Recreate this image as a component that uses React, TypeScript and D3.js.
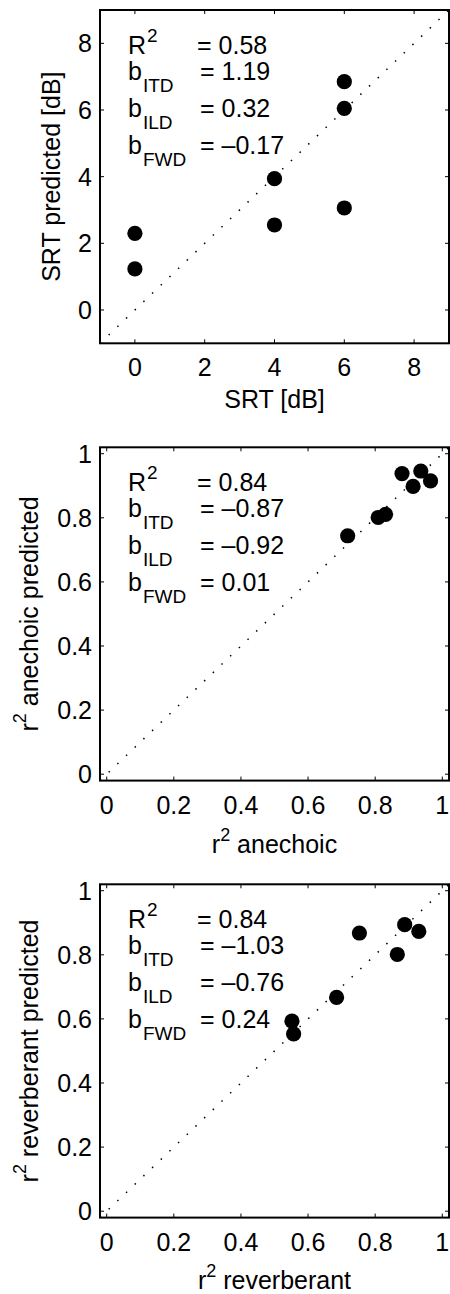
import React from 'react';
import * as d3 from 'd3';

// panel 1: SRT
const srtMeasured = [0, 0, 4, 4, 6, 6, 6];
const srtPredicted = [2.3, 1.23, 3.94, 2.55, 6.85, 6.05, 3.06];
const srtTicks = [0, 2, 4, 6, 8];
const srtStats = ['0.58', '1.19', '0.32', '–0.17'];

// panel 2: anechoic
const anechoicMeasured = [0.718, 0.809, 0.831, 0.88, 0.936, 0.913, 0.965];
const anechoicPredicted = [0.744, 0.801, 0.811, 0.938, 0.946, 0.898, 0.915];
const anechoicStats = ['0.84', '–0.87', '–0.92', '0.01'];

// panel 3: reverberant
const reverbMeasured = [0.552, 0.557, 0.685, 0.753, 0.866, 0.888, 0.93];
const reverbPredicted = [0.593, 0.553, 0.667, 0.868, 0.801, 0.894, 0.873];
const reverbStats = ['0.84', '–1.03', '–0.76', '0.24'];

const unitTicks = [0, 0.2, 0.4, 0.6, 0.8, 1];
const statNames = ['2', 'ITD', 'ILD', 'FWD'];

const FONT = 'Liberation Sans, Arial, Helvetica, sans-serif';

type PanelProps = {
  id: string;
  top: number;
  xs: number[];
  ys: number[];
  domain: [number, number];
  ticks: number[];
  stats: string[];
  xlabel: React.ReactNode;
  ylabel: React.ReactNode;
  ylabelX: number;
  xlabelOff: number;
};

function Panel(p: PanelProps) {
  const left = 100, right = 449, h = 333.3;
  const top = p.top, bottom = top + h;
  const x = d3.scaleLinear().domain(p.domain).range([left, right]);
  const y = d3.scaleLinear().domain(p.domain).range([bottom, top]);
  const fmt = d3.format('~g');
  const diag = d3.line<number>().x(d => x(d)).y(d => y(d))(p.domain);
  const tl = 4;
  const lineY = [44, 69.5, 107, 144];
  return (
    <g fontFamily={FONT} fill="#000">
      <defs>
        <clipPath id={p.id}>
          <rect x={left} y={top} width={right - left} height={h} />
        </clipPath>
      </defs>
      <path d={diag || ''} stroke="#000" strokeWidth={1.5} strokeDasharray="1.5,10.5" fill="none" clipPath={`url(#${p.id})`} />
      {p.xs.map((v, i) => (
        <circle key={i} cx={x(v)} cy={y(p.ys[i])} r={7.6} fill="#000" />
      ))}
      {p.ticks.map(t => (
        <g key={'t' + t}>
          <line x1={x(t)} x2={x(t)} y1={bottom} y2={bottom - tl} stroke="#000" strokeWidth={1} />
          <line x1={x(t)} x2={x(t)} y1={top} y2={top + tl} stroke="#000" strokeWidth={1} />
          <line x1={left} x2={left + tl} y1={y(t)} y2={y(t)} stroke="#000" strokeWidth={1} />
          <line x1={right} x2={right - tl} y1={y(t)} y2={y(t)} stroke="#000" strokeWidth={1} />
          <text x={x(t)} y={bottom + 33} textAnchor="middle" fontSize={25}>{fmt(t)}</text>
          <text x={left - 8} y={y(t)} dy="0.36em" textAnchor="end" fontSize={25}>{fmt(t)}</text>
        </g>
      ))}
      <rect x={left} y={top} width={right - left} height={h} fill="none" stroke="#000" strokeWidth={2} />
      {p.stats.map((s, i) => (
        <g key={'s' + i}>
          <text x={128} y={top + lineY[i]} fontSize={25}>
            {i === 0 ? 'R' : 'b'}
            <tspan fontSize={19} dy={i === 0 ? -12 : 12} dx={1}>{statNames[i]}</tspan>
          </text>
          <text x={i === 0 ? 197 : 200} y={top + lineY[i]} fontSize={25}>{'= ' + s}</text>
        </g>
      ))}
      <text x={(left + right) / 2} y={bottom + p.xlabelOff} textAnchor="middle" fontSize={25}>{p.xlabel}</text>
      <text transform={`translate(${p.ylabelX},${top + h / 2}) rotate(-90)`} textAnchor="middle" fontSize={25}>{p.ylabel}</text>
    </g>
  );
}

const sup = (t: string) => (
  <>
    <tspan dy={-12} fontSize={18}>2</tspan>
    <tspan dy={12}>{' ' + t}</tspan>
  </>
);

export default function App() {
  return (
    <svg width={450} height={1294} style={{ position: 'absolute', left: 0, top: 0, background: '#fff' }}>
      <Panel id="c1" top={10} xs={srtMeasured} ys={srtPredicted} domain={[-1, 9]} ticks={srtTicks}
        stats={srtStats} xlabel="SRT [dB]" ylabel="SRT predicted [dB]" ylabelX={60} xlabelOff={65} />
      <Panel id="c2" top={447.3} xs={anechoicMeasured} ys={anechoicPredicted} domain={[-0.02, 1.02]} ticks={unitTicks}
        stats={anechoicStats} xlabel={<>r{sup('anechoic')}</>} ylabel={<>r{sup('anechoic predicted')}</>} ylabelX={38} xlabelOff={72} />
      <Panel id="c3" top={884.3} xs={reverbMeasured} ys={reverbPredicted} domain={[-0.02, 1.02]} ticks={unitTicks}
        stats={reverbStats} xlabel={<>r{sup('reverberant')}</>} ylabel={<>r{sup('reverberant predicted')}</>} ylabelX={38} xlabelOff={71} />
    </svg>
  );
}
